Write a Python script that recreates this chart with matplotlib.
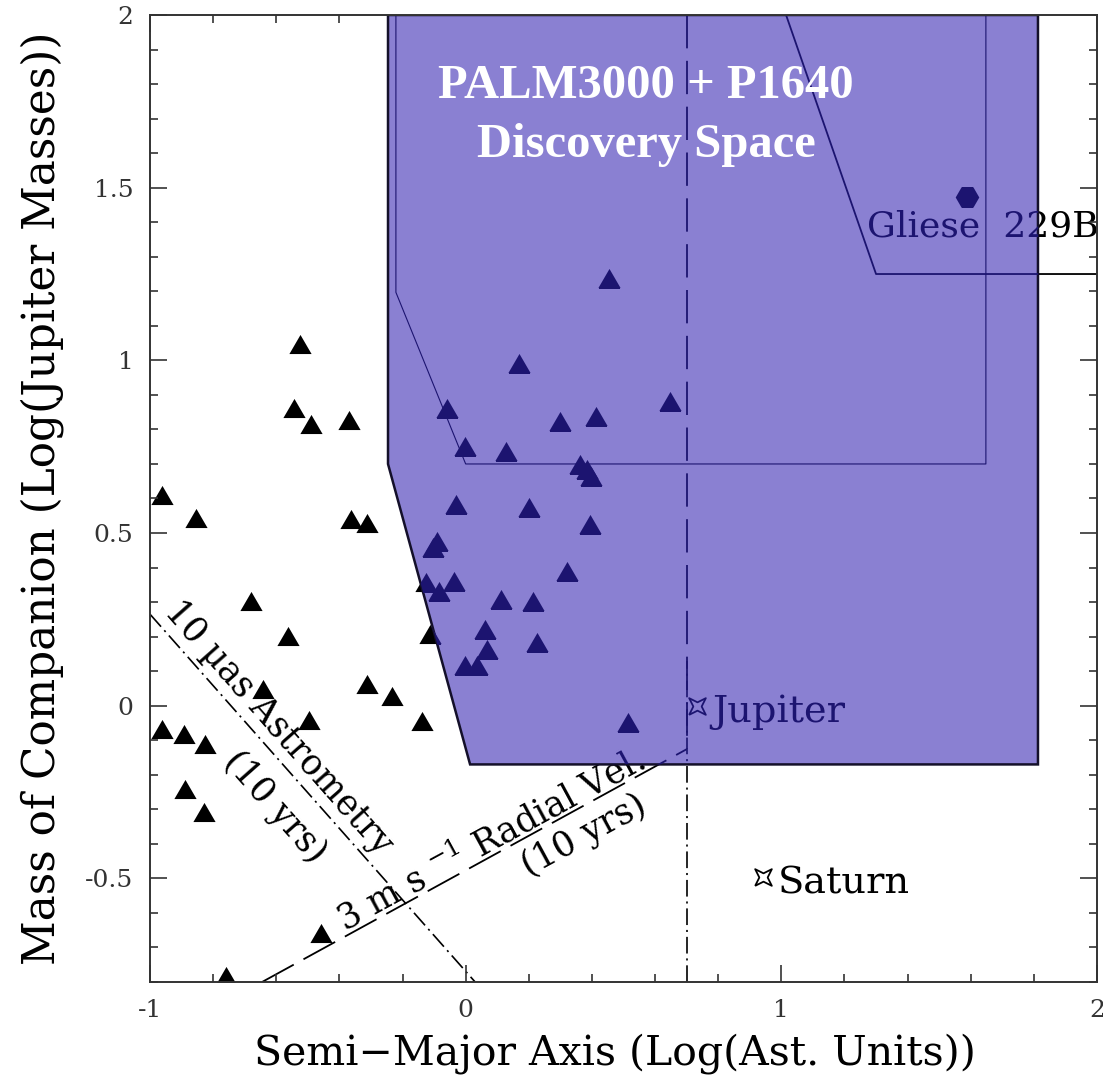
import matplotlib.pyplot as plt
from matplotlib.patches import Polygon
from matplotlib.ticker import MultipleLocator, FuncFormatter
from matplotlib.transforms import Bbox, TransformedBbox

plt.rcParams['font.family'] = ['DejaVu Serif']
plt.rcParams['mathtext.fontset'] = 'dejavuserif'
plt.rcParams['axes.unicode_minus'] = False
plt.rcParams['lines.scale_dashes'] = False

# known companions: log semi-major axis (AU), log mass (M_Jup)
comp_a = [-0.525, -0.543, -0.490, -0.370, -0.961, -0.855, -0.363, -0.314,
          -0.681, -0.563, -0.643, -0.961, -0.892, -0.827, -0.889, -0.829,
          -0.497, -0.313, -0.234, -0.139, -0.113, -0.459, -0.760, -0.126,
          0.455, 0.170, -0.060, 0.647, 0.299, 0.413, -0.002, 0.128,
          0.362, 0.383, 0.396, -0.031, 0.201, 0.394, -0.092, -0.105,
          0.320, -0.037, -0.084, 0.111, 0.214, 0.061, 0.227, 0.068,
          -0.002, 0.037, 0.515]
comp_m = [1.046, 0.863, 0.817, 0.827, 0.611, 0.543, 0.540, 0.529,
          0.304, 0.202, 0.049, -0.066, -0.081, -0.110, -0.240, -0.309,
          -0.042, 0.064, 0.029, -0.045, 0.208, -0.659, -0.783, 0.357,
          1.239, 0.993, 0.863, 0.882, 0.825, 0.839, 0.752, 0.738,
          0.699, 0.685, 0.666, 0.584, 0.574, 0.526, 0.478, 0.459,
          0.391, 0.362, 0.333, 0.309, 0.304, 0.223, 0.184, 0.165,
          0.117, 0.117, -0.047]

# PALM3000 + P1640 discovery space
space_x = [-0.246, -0.246, 0.014, 1.813, 1.813]
space_y = [2.0, 0.70, -0.17, -0.17, 2.0]
# thinner inner survey outline
inner_x = [-0.221, -0.221, 0.0, 1.648, 1.648]
inner_y = [2.0, 1.197, 0.70, 0.70, 2.0]
# brown dwarf region around Gliese 229B
gl_box_x = [1.015, 1.30, 2.0]
gl_box_y = [2.0, 1.25, 1.25]
gl_a, gl_m = 1.588, 1.474

# detection limits
astro_x = [-1.0, 0.03]
astro_y = [0.265, -0.80]
astro_vy = [-0.80, 0.13]
rv_x = [-0.645, 0.70]
rv_y = [-0.80, -0.126]
rv_vy = [2.0, -0.126]
p_limit = 0.70

planets = ['Jupiter', 'Saturn']
planet_a = [0.732, 0.943]
planet_m = [0.0, -0.497]

fill_col = '#8a80d2'
navy = '#1c1470'

tri = [(-1, -0.86), (1, -0.86), (0, 0.86), (-1, -0.86)]
star = [(-1, -1), (0, -0.5), (1, -1), (0.5, 0), (1, 1), (0, 0.5), (-1, 1), (-0.5, 0), (-1, -1)]

fig = plt.figure(figsize=(11.03, 10.80), dpi=100)
ax = fig.add_axes([150 / 1103, 98 / 1080, 947 / 1103, 967 / 1080])
ax.set_xlim(-1, 2)
ax.set_ylim(-0.8, 2)

space = Polygon(list(zip(space_x, space_y)), closed=True, facecolor=fill_col,
                edgecolor='#14102a', lw=1.8, zorder=2)
ax.add_patch(space)
# text can only be clipped to a rectangle: the right-hand part of the space
text_box = TransformedBbox(Bbox([[space_x[2], space_y[2]], [space_x[3], space_y[0]]]),
                           ax.transData)


def layer(col, z, clip=None):
    arts = []
    arts += ax.plot(comp_a, comp_m, ls='none', marker=tri, ms=16, color=col, mew=0)
    arts += ax.plot(inner_x, inner_y, color=col, lw=0.8)
    arts += ax.plot(gl_box_x, gl_box_y, color=col, lw=1.3)
    arts += ax.plot([gl_a], [gl_m], ls='none', marker='H', ms=17, color=col, mew=0)
    arts += ax.plot(astro_x, astro_y, color=col, lw=1.2, dashes=(12, 3.5, 1.5, 3.5))
    arts += ax.plot([p_limit, p_limit], astro_vy, color=col, lw=1.2, dashes=(12, 3.5, 1.5, 3.5))
    arts += ax.plot(rv_x, rv_y, color=col, lw=1.3, dashes=(26, 8))
    arts += ax.plot([p_limit, p_limit], rv_vy, color=col, lw=1.3, dashes=(24, 9))
    arts += ax.plot(planet_a, planet_m, ls='none', marker=star, ms=12,
                    mfc='none', mec=col, mew=1.3)
    texts = [
        ax.text(planet_a[0] + 0.048, -0.046, planets[0], fontsize=27.5, color=col),
        ax.text(planet_a[1] + 0.046, -0.543, planets[1], fontsize=27.5, color=col),
        ax.text(1.271, 1.358, 'Gliese  229B', fontsize=26, color=col),
        ax.text(-0.615, -0.082, '10 \u00b5as Astrometry', fontsize=25, color=col,
                rotation=-48.5, rotation_mode='anchor', ha='center', va='baseline'),
        ax.text(-0.604, -0.292, '(10 yrs)', fontsize=25, color=col,
                rotation=-48.5, rotation_mode='anchor', ha='center', va='center'),
        ax.text(0.097, -0.417, '3 m s $^{-1}$ Radial Vel.', fontsize=25, color=col,
                rotation=28.5, rotation_mode='anchor', ha='center', va='baseline'),
        ax.text(0.375, -0.376, '(10 yrs)', fontsize=25, color=col,
                rotation=28.5, rotation_mode='anchor', ha='center', va='center'),
    ]
    for a in arts + texts:
        a.set_zorder(z)
    if clip is not None:
        for a in arts:
            a.set_clip_on(True)
            a.set_clip_path(clip)
        for t in texts:
            t.set_clip_on(True)
            t.set_clip_box(text_box)


layer('black', 1)
layer(navy, 3, clip=space)

ax.text(0.571, 1.760, 'PALM3000 + P1640', family='Liberation Serif', weight='bold',
        fontsize=35, color='white', ha='center', va='baseline', zorder=6)
ax.text(0.571, 1.590, 'Discovery Space', family='Liberation Serif', weight='bold',
        fontsize=35, color='white', ha='center', va='baseline', zorder=6)

ax.xaxis.set_major_locator(MultipleLocator(1))
ax.xaxis.set_minor_locator(MultipleLocator(0.2))
ax.yaxis.set_major_locator(MultipleLocator(0.5))
ax.yaxis.set_minor_locator(MultipleLocator(0.1))
fmt = FuncFormatter(lambda v, p: '%g' % v)
ax.xaxis.set_major_formatter(fmt)
ax.yaxis.set_major_formatter(fmt)
ax.tick_params(which='both', direction='in', top=True, right=True, colors='#333333',
               labelsize=18, width=1.2, zorder=7)
ax.tick_params(which='major', length=12, pad=12)
ax.tick_params(which='minor', length=6)
for sp in ax.spines.values():
    sp.set_linewidth(1.4)
    sp.set_color('#333333')
    sp.set_zorder(8)

ax.set_xlabel('Semi\u2212Major Axis (Log(Ast. Units))', fontsize=29.5, labelpad=8)
ax.xaxis.label.set_x(0.491)
ax.set_ylabel('Mass of Companion (Log(Jupiter Masses))', fontsize=31.5, labelpad=15)

fig.savefig('out.png', dpi=100)
